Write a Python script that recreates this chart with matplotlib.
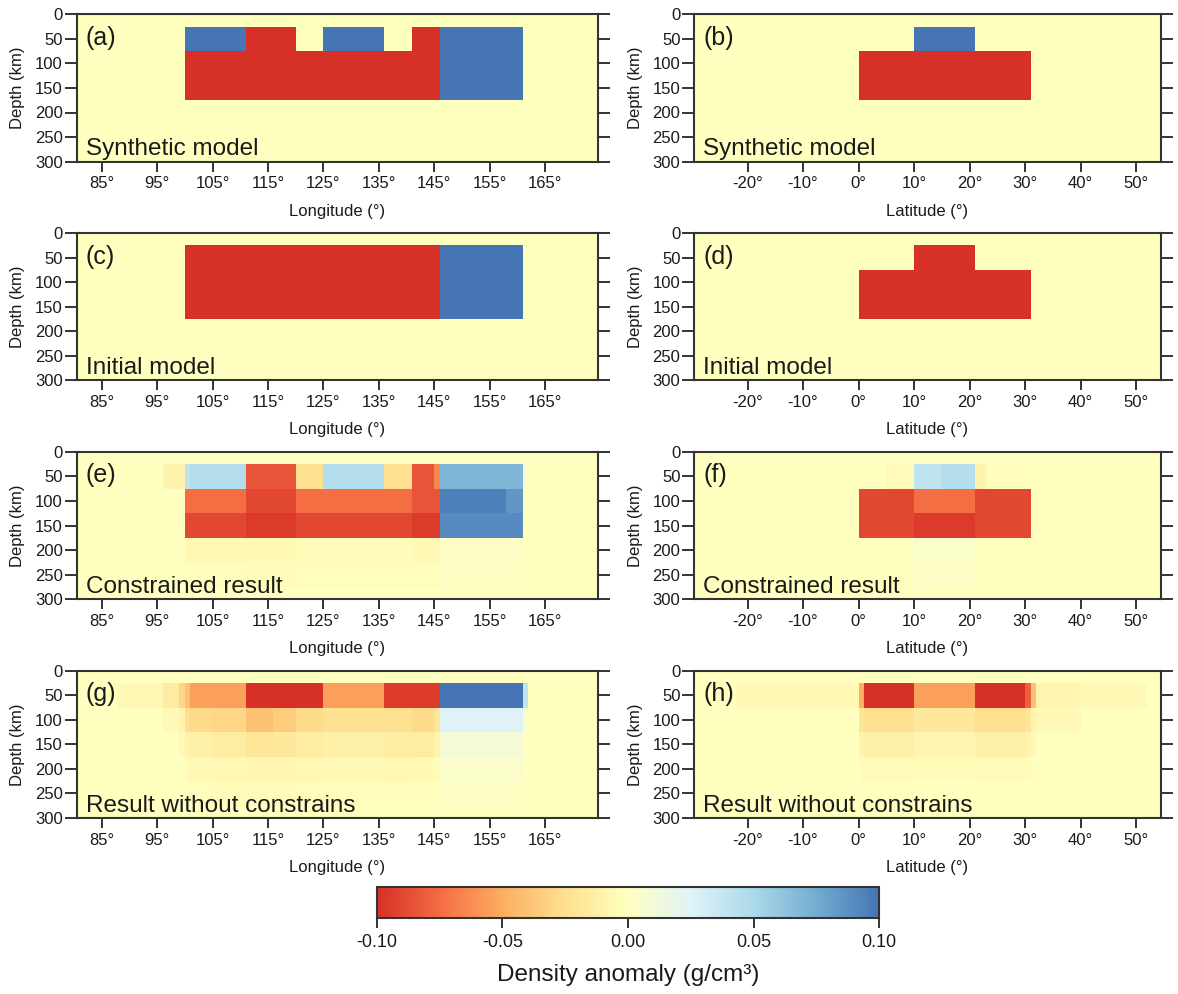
import numpy as np
import matplotlib
matplotlib.use("Agg")
import matplotlib.pyplot as plt
from matplotlib.colors import LinearSegmentedColormap, Normalize

plt.rcParams['font.family'] = ['Liberation Sans', 'DejaVu Sans']

# ---------------- data (values in units of 0.01 g/cm3) ----------------
depth_edges = [0, 25, 75, 125, 175, 225, 275, 300]
lon_edges = [80.5, 88, 96, 99, 100, 101, 105, 111, 116, 120, 125, 130, 136, 141,
             145, 146, 152, 158, 161, 162, 174.6]
lat_edges = [-29.6, -22, 0, 1, 5, 10, 15, 21, 23, 30, 31, 32, 40, 52, 54.45]

Z0 = [0] * 20
a_vals = [Z0,
          [0, 0, 0, 0, 10, 10, 10, -10, -10, 0, 10, 10, 0, -10, -10, 10, 10, 10, 0, 0],
          [0, 0, 0, 0, -10, -10, -10, -10, -10, -10, -10, -10, -10, -10, -10, 10, 10, 10, 0, 0],
          [0, 0, 0, 0, -10, -10, -10, -10, -10, -10, -10, -10, -10, -10, -10, 10, 10, 10, 0, 0],
          Z0, Z0, Z0]
c_vals = [Z0,
          [0, 0, 0, 0, -10, -10, -10, -10, -10, -10, -10, -10, -10, -10, -10, 10, 10, 10, 0, 0],
          [0, 0, 0, 0, -10, -10, -10, -10, -10, -10, -10, -10, -10, -10, -10, 10, 10, 10, 0, 0],
          [0, 0, 0, 0, -10, -10, -10, -10, -10, -10, -10, -10, -10, -10, -10, 10, 10, 10, 0, 0],
          Z0, Z0, Z0]
e_vals = [Z0,
          [0, 0, -1, -1, 4, 4.5, 4.5, -8.5, -8.5, -2.5, 4.5, 4.5, -2.5, -8.5, -6.5, 7, 7, 7, 0.5, 0],
          [0, 0, 0, 0, -7.5, -7.5, -7.5, -9, -9, -7.5, -7.5, -7.5, -7.5, -8.5, -8.5, 9.5, 9.5, 8.5, 0, 0],
          [0, 0, 0, 0, -9, -9, -9, -9.5, -9.5, -9, -9, -9, -9, -9.5, -9.5, 9, 9, 9, 0, 0],
          [0, 0, 0, 0, -0.5, -0.5, -0.5, -0.5, -0.5, -0.3, -0.3, -0.3, -0.3, -0.5, -0.5, 0.3, 0.3, 0.3, 0, 0],
          [0, 0, 0, 0, -0.2, -0.2, -0.2, -0.3, -0.3, -0.2, -0.2, -0.2, -0.2, -0.2, -0.2, 0.2, 0.2, 0.2, 0, 0],
          Z0]
g_vals = [Z0,
          [0, -0.6, -1.5, -3, -4, -5.5, -5.5, -10, -10, -10, -5.5, -5.5, -9.5, -9.5, -9.5, 10, 10, 10, 4, 0],
          [0, 0, -0.5, -1, -2.5, -2.8, -3, -4, -3.5, -2.8, -2.5, -2.5, -2.5, -2.8, -2, 2.5, 2.5, 2.5, 0.5, 0],
          [0, 0, 0, -0.5, -1, -1.2, -1.5, -2, -1.8, -1.5, -1.2, -1.2, -1.5, -1.5, -1, 1, 1, 1, 0, 0],
          [0, 0, 0, 0, -0.4, -0.5, -0.6, -0.8, -0.8, -0.6, -0.5, -0.5, -0.6, -0.5, -0.3, 0.4, 0.4, 0.4, 0, 0],
          [0, 0, 0, 0, -0.2, -0.2, -0.3, -0.3, -0.3, -0.2, -0.2, -0.2, -0.2, -0.2, 0, 0.2, 0.2, 0.2, 0, 0],
          Z0]

R0 = [0] * 14
b_vals = [R0,
          [0, 0, 0, 0, 0, 10, 10, 0, 0, 0, 0, 0, 0, 0],
          [0, 0, -10, -10, -10, -10, -10, -10, -10, -10, 0, 0, 0, 0],
          [0, 0, -10, -10, -10, -10, -10, -10, -10, -10, 0, 0, 0, 0],
          R0, R0, R0]
d_vals = [R0,
          [0, 0, 0, 0, 0, -10, -10, 0, 0, 0, 0, 0, 0, 0],
          [0, 0, -10, -10, -10, -10, -10, -10, -10, -10, 0, 0, 0, 0],
          [0, 0, -10, -10, -10, -10, -10, -10, -10, -10, 0, 0, 0, 0],
          R0, R0, R0]
f_vals = [R0,
          [0, 0, 0, 0, -0.4, 4, 4.5, -1, -0.2, 0, 0, 0, 0, 0],
          [0, 0, -9, -9, -9, -7.5, -7.5, -9, -9, -9, 0, 0, 0, 0],
          [0, 0, -9, -9, -9, -9.5, -9.5, -9, -9, -9, 0, 0, 0, 0],
          [0, 0, 0, 0, 0, 0.4, 0.4, 0, 0, 0, 0, 0, 0, 0],
          [0, 0, 0, 0, 0, 0.3, 0.3, 0, 0, 0, 0, 0, 0, 0],
          R0]
h_vals = [R0,
          [0, -0.5, -5, -10, -10, -5.5, -5.5, -10, -10, -8, -4, -0.8, -0.5, 0],
          [0, 0, -2, -2.5, -2.5, -1.8, -1.8, -2.5, -2.5, -2, -1, -0.5, 0, 0],
          [0, 0, -1, -1.2, -1.2, -0.8, -0.8, -1.2, -1.2, -1, -0.5, 0, 0, 0],
          [0, 0, -0.3, -0.4, -0.4, -0.3, -0.3, -0.4, -0.4, -0.3, 0, 0, 0, 0],
          R0, R0]

lon_ticks = [85, 95, 105, 115, 125, 135, 145, 155, 165]
lat_ticks = [-20, -10, 0, 10, 20, 30, 40, 50]
depth_ticks = [0, 50, 100, 150, 200, 250, 300]
cbar_ticks = [-0.10, -0.05, 0.00, 0.05, 0.10]

panels = [
    ("(a)", "Synthetic model", a_vals, "lon"),
    ("(b)", "Synthetic model", b_vals, "lat"),
    ("(c)", "Initial model", c_vals, "lon"),
    ("(d)", "Initial model", d_vals, "lat"),
    ("(e)", "Constrained result", e_vals, "lon"),
    ("(f)", "Constrained result", f_vals, "lat"),
    ("(g)", "Result without constrains", g_vals, "lon"),
    ("(h)", "Result without constrains", h_vals, "lat"),
]

# ---------------- style ----------------
cmap = LinearSegmentedColormap.from_list(
    "rdylbu9", ["#d73027", "#f46d43", "#fdae61", "#fee090", "#ffffbf",
                "#e0f3f8", "#abd9e9", "#74add1", "#4575b4"])
norm = Normalize(-0.10, 0.10)

W, H = 1178, 994
fig = plt.figure(figsize=(W / 100, H / 100), dpi=100)
fig.patch.set_facecolor("white")

row_tops = [14.3, 233.1, 451.9, 670.7]
ax_h = 147.3
col_x = {"lon": (76.7, 598.3), "lat": (694.3, 1160.7)}
spine_c = "#333333"
text_c = "#1a1a1a"

for i, (letter, title, vals, kind) in enumerate(panels):
    r = i // 2
    x0, x1 = col_x[kind]
    top = row_tops[r]
    ax = fig.add_axes([x0 / W, 1 - (top + ax_h) / H, (x1 - x0) / W, ax_h / H])
    if kind == "lon":
        xe = lon_edges
        ticks = lon_ticks
        xlabel = "Longitude (°)"
    else:
        xe = lat_edges
        ticks = lat_ticks
        xlabel = "Latitude (°)"
    data = np.array(vals, dtype=float) * 0.01
    ax.pcolormesh(xe, depth_edges, data, cmap=cmap, norm=norm,
                  shading="flat", antialiased=False, linewidth=0)
    ax.set_xlim(xe[0], xe[-1])
    ax.set_ylim(300, 0)
    ax.set_xticks(ticks)
    ax.set_xticklabels([f"{t}°" for t in ticks])
    ax.set_yticks(depth_ticks)
    ax.set_yticklabels([str(t) for t in depth_ticks])
    ax.tick_params(axis="x", which="both", direction="out", length=7.5, width=1.4,
                   color=spine_c, labelsize=12, pad=3, top=False,
                   labelcolor=text_c)
    ax.tick_params(axis="y", which="both", direction="out", length=8.5, width=1.4,
                   color=spine_c, labelsize=12, pad=1.5, left=True, right=True,
                   labelright=False, labelcolor=text_c)
    for s in ax.spines.values():
        s.set_color(spine_c)
        s.set_linewidth(1.5)
    ax.set_ylabel("Depth (km)", fontsize=12, labelpad=7, color=text_c)
    ax.set_xlabel(xlabel, fontsize=12, labelpad=9, color=text_c)
    wpx = x1 - x0
    ax.text(9.0 / wpx, 1 - 11.5 / ax_h, letter, transform=ax.transAxes,
            fontsize=18, va="top", ha="left", color=text_c)
    ax.text(9.0 / wpx, 6.5 / ax_h, title, transform=ax.transAxes,
            fontsize=17.5, va="baseline", ha="left", color=text_c)

# ---------------- colorbar ----------------
cx0, cx1, cy0, cy1 = 376.7, 879.3, 886.7, 918.3
cax = fig.add_axes([cx0 / W, 1 - cy1 / H, (cx1 - cx0) / W, (cy1 - cy0) / H])
sm = matplotlib.cm.ScalarMappable(norm=norm, cmap=cmap)
cb = fig.colorbar(sm, cax=cax, orientation="horizontal", ticks=cbar_ticks)
cb.ax.set_xticklabels([f"{t:.2f}" for t in cbar_ticks])
cb.ax.tick_params(direction="out", length=7.5, width=1.4, color=spine_c,
                  labelsize=13, pad=4, labelcolor=text_c)
cb.outline.set_edgecolor(spine_c)
cb.outline.set_linewidth(1.5)
cb.set_label("Density anomaly (g/cm³)", fontsize=17.5, labelpad=9, color=text_c)

fig.savefig("out.png", dpi=100, facecolor="white")
